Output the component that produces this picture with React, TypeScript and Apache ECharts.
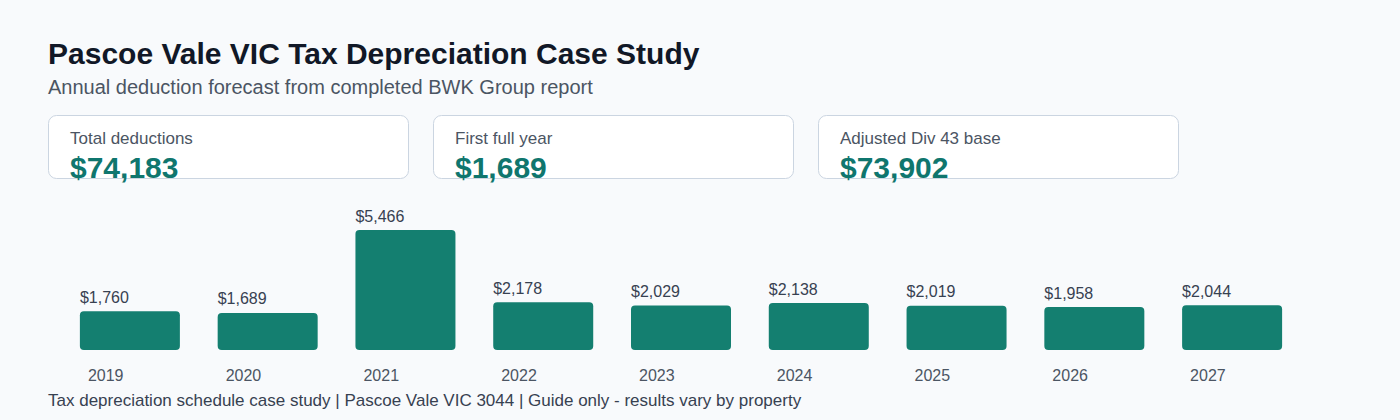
import React, { useEffect, useRef } from "react";
import * as echarts from "echarts";

const years = ["2019", "2020", "2021", "2022", "2023", "2024", "2025", "2026", "2027"];
const deductions = [1760, 1689, 5466, 2178, 2029, 2138, 2019, 1958, 2044];
const cardLabels = ["Total deductions", "First full year", "Adjusted Div 43 base"];
const cardValues = ["$74,183", "$1,689", "$73,902"];

const TEAL = "#147f70";
const fmt = (v: number) => "$" + v.toLocaleString("en-US");

export default function App() {
  const ref = useRef<HTMLDivElement>(null);
  useEffect(() => {
    if (!ref.current) return;
    const chart = echarts.init(ref.current, null, { renderer: "svg" });
    const font = "Liberation Sans, Arial, Helvetica, sans-serif";
    const cards: any[] = [];
    cardLabels.forEach((lab, i) => {
      const x = 48 + i * 385;
      cards.push({
        type: "rect",
        shape: { x: x + 0.5, y: 115.5, width: 360, height: 63, r: 8 },
        style: { fill: "#ffffff", stroke: "#cbd5e1", lineWidth: 1 },
        z: 1,
      });
      cards.push({
        type: "text",
        x: x + 22,
        y: 138,
        style: { text: lab, font: `17px ${font}`, fill: "#4b5563", verticalAlign: "middle" },
        z: 2,
      });
      cards.push({
        type: "text",
        x: x + 22,
        y: 167,
        style: { text: cardValues[i], font: `bold 30px ${font}`, fill: "#0f766e", verticalAlign: "middle" },
        z: 2,
      });
    });
    chart.setOption({
      animation: false,
      backgroundColor: "#f8fafc",
      textStyle: { fontFamily: font },
      graphic: [
        {
          type: "text",
          x: 48,
          y: 53,
          style: {
            text: "Pascoe Vale VIC Tax Depreciation Case Study",
            font: `bold 30px ${font}`,
            fill: "#111827",
            verticalAlign: "middle",
          },
        },
        {
          type: "text",
          x: 48,
          y: 87,
          style: {
            text: "Annual deduction forecast from completed BWK Group report",
            font: `20px ${font}`,
            fill: "#4b5563",
            verticalAlign: "middle",
          },
        },
        ...cards,
        {
          type: "text",
          x: 48,
          y: 400,
          style: {
            text: "Tax depreciation schedule case study | Pascoe Vale VIC 3044 | Guide only - results vary by property",
            font: `17px ${font}`,
            fill: "#374151",
            verticalAlign: "middle",
          },
        },
      ],
      grid: { left: 61, width: 1240, top: 230, bottom: 70 },
      xAxis: {
        type: "category",
        data: years,
        axisLine: { show: false },
        axisTick: { show: false },
        axisLabel: {
          margin: 17,
          formatter: (v: string) => `{a|${v}}`,
          rich: { a: { width: 84, align: "left", fontSize: 16, color: "#4b5563", fontFamily: font } },
        },
      },
      yAxis: { type: "value", min: 0, max: 5466, show: false, splitLine: { show: false } },
      series: [
        {
          type: "bar",
          data: deductions,
          barWidth: 100,
          itemStyle: { color: TEAL, borderRadius: 4 },
          label: {
            show: true,
            position: "top",
            distance: 6,
            formatter: (p: any) => `{a|${fmt(p.value)}}`,
            rich: { a: { width: 100, align: "left", fontSize: 16, color: "#374151", fontFamily: font } },
          },
        },
      ],
    });
    return () => chart.dispose();
  }, []);
  return <div ref={ref} style={{ width: 1400, height: 420, position: "absolute", left: 0, top: 0 }} />;
}
